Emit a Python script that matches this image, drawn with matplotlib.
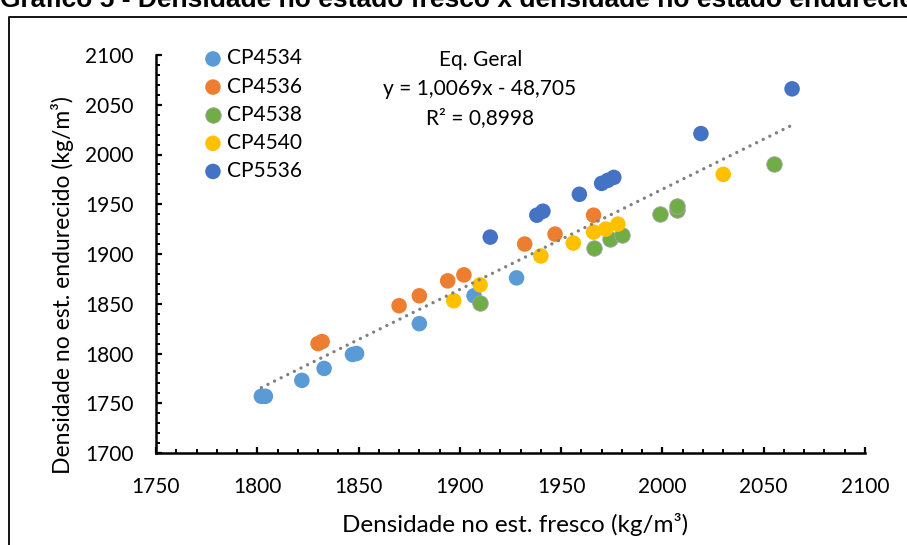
import matplotlib
matplotlib.use('Agg')
import matplotlib.pyplot as plt
from matplotlib.lines import Line2D
import numpy as np

plt.rcParams['font.family'] = ['Lato', 'DejaVu Sans']

# dados
cp4534_x = [1802, 1804, 1822, 1833, 1847, 1849, 1880, 1907, 1928]
cp4534_y = [1757, 1757, 1773, 1785, 1799, 1800, 1830, 1858, 1876]

cp4536_x = [1830, 1832, 1870, 1880, 1894, 1902, 1932, 1947, 1966]
cp4536_y = [1810, 1812, 1848, 1858, 1873, 1879, 1910, 1920, 1939]

cp4538_x = [1910, 1966, 1974, 1980, 1999, 2007, 2007, 2055]
cp4538_y = [1851, 1906, 1915, 1919, 1940, 1944, 1948, 1990]

cp4540_x = [1897, 1910, 1940, 1956, 1966, 1972, 1978, 2030]
cp4540_y = [1853, 1869, 1898, 1911, 1922, 1925, 1930, 1980]

cp5536_x = [1915, 1938, 1941, 1959, 1970, 1973, 1976, 2019, 2064]
cp5536_y = [1917, 1939, 1943, 1960, 1971, 1974, 1977, 2021, 2066]

series = [
    ('CP4534', cp4534_x, cp4534_y, '#5B9BD5'),
    ('CP4536', cp4536_x, cp4536_y, '#ED7D31'),
    ('CP4538', cp4538_x, cp4538_y, '#70AD47'),
    ('CP4540', cp4540_x, cp4540_y, '#FFC000'),
    ('CP5536', cp5536_x, cp5536_y, '#4472C4'),
]

coef_a = 1.0069
coef_b = -48.705

W, H = 907, 545
fig = plt.figure(figsize=(W / 100, H / 100), dpi=100)
ax = fig.add_axes([156 / W, 1 - 453 / H, (865 - 156) / W, (453 - 55) / H])

for nome, xs, ys, cor in series:
    if nome == 'CP4538':
        ax.scatter(xs, ys, s=125, color=cor, edgecolors='#A5A5A5', linewidths=0.6, label=nome, zorder=3)
    else:
        ax.scatter(xs, ys, s=125, color=cor, edgecolors='none', label=nome, zorder=3)

todos_x = np.array(cp4534_x + cp4536_x + cp4538_x + cp4540_x + cp5536_x)
xl = np.array([todos_x.min(), todos_x.max()])
ax.plot(xl, coef_a * xl + coef_b, color='#808080', lw=2.4,
        linestyle=(0, (0.01, 2.2)), dash_capstyle='round', zorder=4)

ax.set_xlim(1750, 2100)
ax.set_ylim(1700, 2100)
ax.set_xticks(np.arange(1750, 2101, 50))
ax.set_yticks(np.arange(1700, 2101, 50))
ax.set_xticks(np.arange(1750, 2101, 10), minor=True)
ax.set_yticks(np.arange(1700, 2101, 10), minor=True)
ax.tick_params(which='major', direction='in', length=4, width=1.6, labelsize=15, colors='black')
ax.tick_params(which='minor', direction='in', length=3, width=1.4)
ax.tick_params(axis='y', which='major', pad=16)
ax.tick_params(axis='x', which='major', pad=17)
for s in ['top', 'right']:
    ax.spines[s].set_visible(False)
for s in ['left', 'bottom']:
    ax.spines[s].set_linewidth(1.8)
    ax.spines[s].set_color('black')

fig.text(515 / W, 1 - 525 / H, 'Densidade no est. fresco (kg/m³)', fontsize=17.5,
         ha='center', va='center')
fig.text(63 / W, 1 - 285 / H, 'Densidade no est. endurecido (kg/m³)', fontsize=16.5,
         ha='center', va='center', rotation=90)

leg = ax.legend(loc='upper left', bbox_to_anchor=(189 / W, 1 - 38 / H),
                bbox_transform=fig.transFigure, frameon=False, fontsize=15,
                handletextpad=0.0, labelspacing=0.39, borderpad=0, handlelength=1.3)

fig.text(481 / W, 1 - 60 / H, 'Eq. Geral', fontsize=15, ha='center', va='center')
fig.text(480 / W, 1 - 89 / H, 'y = 1,0069x - 48,705', fontsize=15, ha='center', va='center')
fig.text(480 / W, 1 - 118 / H, 'R² = 0,8998', fontsize=15, ha='center', va='center')

# titulo cortado no topo
fig.text(0, 1 - 7 / H, 'Gráfico 5 - Densidade no estado fresco x densidade no estado endurecido',
         fontsize=19, fontweight='bold', family='Liberation Sans', ha='left', va='baseline')

# moldura
fig.add_artist(Line2D([9 / W, 9 / W, 1], [0, 1 - 17 / H, 1 - 17 / H],
                      transform=fig.transFigure, color='black', lw=1.3))

fig.savefig('out.png', dpi=100)
